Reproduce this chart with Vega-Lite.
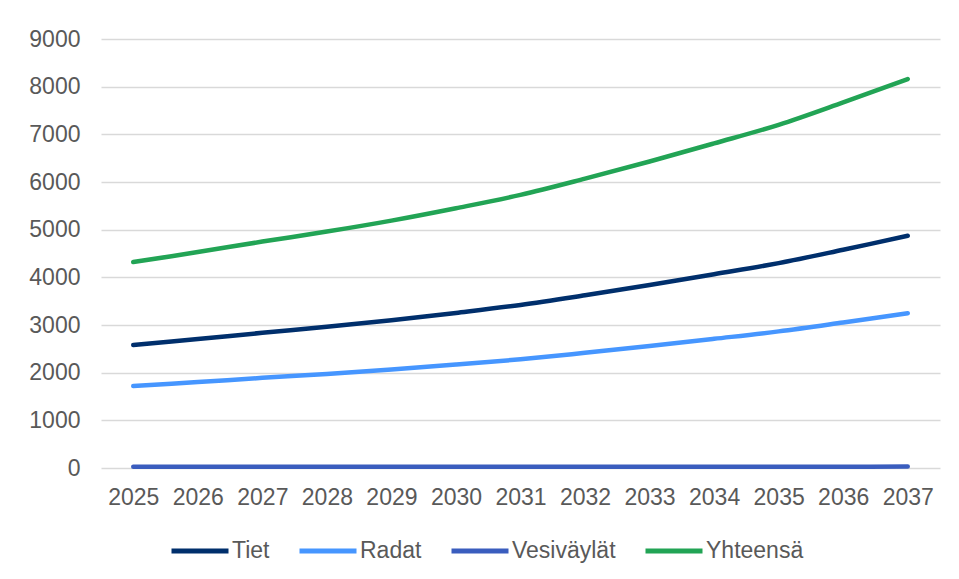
{
  "$schema": "https://vega.github.io/schema/vega-lite/v6.json",
  "autosize": {"type": "none"},
  "width": 839,
  "height": 429,
  "padding": {"left": 101, "top": 39, "right": 19, "bottom": 111},
  "background": "white",
  "config": {
    "view": {"stroke": null},
    "font": "Liberation Sans",
    "axis": {"labelFont": "Liberation Sans", "labelColor": "#595959", "labelFontSize": 23, "domain": false, "ticks": false, "grid": false},
    "legend": {"labelFont": "Liberation Sans", "labelColor": "#595959", "labelFontSize": 23}
  },
  "data": {
    "values": [
      {"vuosi": "2025", "sarja": "Tiet", "arvo": 2579}, {"vuosi": "2026", "sarja": "Tiet", "arvo": 2704}, {"vuosi": "2027", "sarja": "Tiet", "arvo": 2836}, {"vuosi": "2028", "sarja": "Tiet", "arvo": 2961}, {"vuosi": "2029", "sarja": "Tiet", "arvo": 3098}, {"vuosi": "2030", "sarja": "Tiet", "arvo": 3254}, {"vuosi": "2031", "sarja": "Tiet", "arvo": 3421}, {"vuosi": "2032", "sarja": "Tiet", "arvo": 3624}, {"vuosi": "2033", "sarja": "Tiet", "arvo": 3839}, {"vuosi": "2034", "sarja": "Tiet", "arvo": 4066}, {"vuosi": "2035", "sarja": "Tiet", "arvo": 4298}, {"vuosi": "2036", "sarja": "Tiet", "arvo": 4579}, {"vuosi": "2037", "sarja": "Tiet", "arvo": 4872},
      {"vuosi": "2025", "sarja": "Radat", "arvo": 1719}, {"vuosi": "2026", "sarja": "Radat", "arvo": 1803}, {"vuosi": "2027", "sarja": "Radat", "arvo": 1891}, {"vuosi": "2028", "sarja": "Radat", "arvo": 1974}, {"vuosi": "2029", "sarja": "Radat", "arvo": 2066}, {"vuosi": "2030", "sarja": "Radat", "arvo": 2169}, {"vuosi": "2031", "sarja": "Radat", "arvo": 2281}, {"vuosi": "2032", "sarja": "Radat", "arvo": 2416}, {"vuosi": "2033", "sarja": "Radat", "arvo": 2559}, {"vuosi": "2034", "sarja": "Radat", "arvo": 2710}, {"vuosi": "2035", "sarja": "Radat", "arvo": 2866}, {"vuosi": "2036", "sarja": "Radat", "arvo": 3053}, {"vuosi": "2037", "sarja": "Radat", "arvo": 3248},
      {"vuosi": "2025", "sarja": "Vesiväylät", "arvo": 25}, {"vuosi": "2026", "sarja": "Vesiväylät", "arvo": 25}, {"vuosi": "2027", "sarja": "Vesiväylät", "arvo": 25}, {"vuosi": "2028", "sarja": "Vesiväylät", "arvo": 26}, {"vuosi": "2029", "sarja": "Vesiväylät", "arvo": 26}, {"vuosi": "2030", "sarja": "Vesiväylät", "arvo": 26}, {"vuosi": "2031", "sarja": "Vesiväylät", "arvo": 27}, {"vuosi": "2032", "sarja": "Vesiväylät", "arvo": 27}, {"vuosi": "2033", "sarja": "Vesiväylät", "arvo": 27}, {"vuosi": "2034", "sarja": "Vesiväylät", "arvo": 28}, {"vuosi": "2035", "sarja": "Vesiväylät", "arvo": 28}, {"vuosi": "2036", "sarja": "Vesiväylät", "arvo": 28}, {"vuosi": "2037", "sarja": "Vesiväylät", "arvo": 29},
      {"vuosi": "2025", "sarja": "Yhteensä", "arvo": 4320}, {"vuosi": "2026", "sarja": "Yhteensä", "arvo": 4530}, {"vuosi": "2027", "sarja": "Yhteensä", "arvo": 4750}, {"vuosi": "2028", "sarja": "Yhteensä", "arvo": 4960}, {"vuosi": "2029", "sarja": "Yhteensä", "arvo": 5190}, {"vuosi": "2030", "sarja": "Yhteensä", "arvo": 5450}, {"vuosi": "2031", "sarja": "Yhteensä", "arvo": 5730}, {"vuosi": "2032", "sarja": "Yhteensä", "arvo": 6070}, {"vuosi": "2033", "sarja": "Yhteensä", "arvo": 6430}, {"vuosi": "2034", "sarja": "Yhteensä", "arvo": 6810}, {"vuosi": "2035", "sarja": "Yhteensä", "arvo": 7200}, {"vuosi": "2036", "sarja": "Yhteensä", "arvo": 7670}, {"vuosi": "2037", "sarja": "Yhteensä", "arvo": 8160}
    ]
  },
  "mark": {"type": "line", "interpolate": "catmull-rom", "strokeWidth": 4.5, "strokeCap": "round"},
  "encoding": {
    "x": {
      "field": "vuosi", "type": "ordinal", "title": null,
      "scale": {"type": "point", "padding": 0.5},
      "axis": {"labelAngle": 0, "labelPadding": 18}
    },
    "y": {
      "field": "arvo", "type": "quantitative", "title": null,
      "scale": {"domain": [0, 9000], "nice": false},
      "axis": {"values": [0, 1000, 2000, 3000, 4000, 5000, 6000, 7000, 8000, 9000], "grid": true, "gridColor": "#d9d9d9", "gridWidth": 1.5, "labelPadding": 21, "format": "d"}
    },
    "color": {
      "field": "sarja", "type": "nominal", "title": null,
      "scale": {"domain": ["Tiet", "Radat", "Vesiväylät", "Yhteensä"], "range": ["#002F6C", "#4696FF", "#3A5DBE", "#22A455"]},
      "legend": {"orient": "none", "direction": "horizontal", "legendX": 68, "legendY": 481, "symbolType": "stroke", "symbolSize": 3249, "symbolStrokeWidth": 5, "labelOffset": 1, "columnPadding": 19}
    },
    "order": {"value": 0}
  }
}
